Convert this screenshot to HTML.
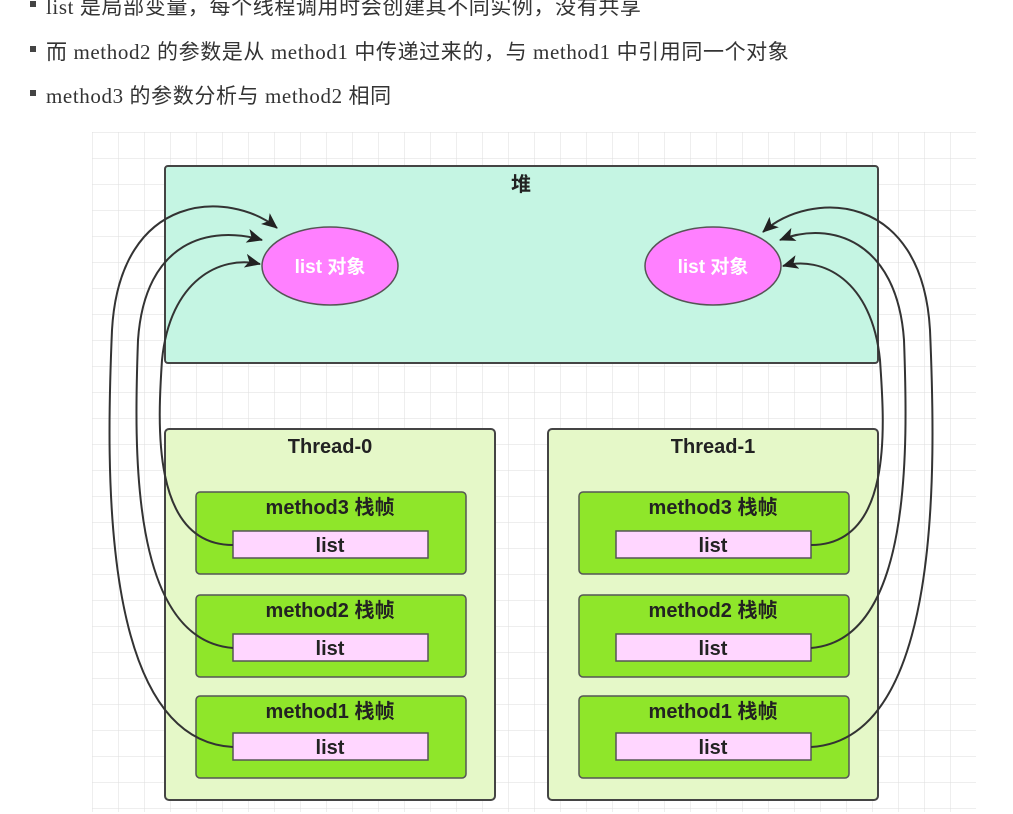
<!DOCTYPE html>
<html><head><meta charset="utf-8"><style>
body{margin:0;background:#fff;width:1013px;height:814px;overflow:hidden;font-family:"Liberation Sans","Noto Sans CJK SC",sans-serif}
.b{position:absolute;font-family:"Liberation Serif","Noto Sans CJK SC",serif;font-size:21px;letter-spacing:0.6px;color:#333;white-space:nowrap}
.b:before{content:"";position:absolute;left:-16px;top:10px;width:6px;height:6px;background:#444}
</style></head><body>
<div class="b" style="left:46px;top:-9px">list 是局部变量，每个线程调用时会创建其不同实例，没有共享</div>
<div class="b" style="left:46px;top:36px">而 method2 的参数是从 method1 中传递过来的，与 method1 中引用同一个对象</div>
<div class="b" style="left:46px;top:80px">method3 的参数分析与 method2 相同</div>
<svg width="1013" height="814" style="position:absolute;left:0;top:0">
<defs>
<pattern id="g" width="26" height="26" patternUnits="userSpaceOnUse" x="92" y="132"><path d="M0 0H26M0 0V26" stroke="#dedede" fill="none"/></pattern>
<marker id="a" markerWidth="16" markerHeight="14" refX="15" refY="7" orient="auto" markerUnits="userSpaceOnUse" viewBox="0 0 16 14"><path d="M0 0L16 7L0 14L4 7Z" fill="#222"/></marker>
</defs>
<rect x="92" y="132" width="884" height="680" fill="url(#g)"/>
<rect x="165" y="166" width="713" height="197" rx="3" fill="#c5f5e3" stroke="#444" stroke-width="2"/>
<text x="521" y="191" font-size="20" font-weight="bold" text-anchor="middle" fill="#222">堆</text>
<g font-weight="bold" text-anchor="middle">
<ellipse cx="330" cy="266" rx="68" ry="39" fill="#ff80ff" stroke="#555" stroke-width="1.5"/>
<text x="330" y="273" font-size="19" fill="#fff">list 对象</text>
<ellipse cx="713" cy="266" rx="68" ry="39" fill="#ff80ff" stroke="#555" stroke-width="1.5"/>
<text x="713" y="273" font-size="19" fill="#fff">list 对象</text>
<g>
<rect x="165" y="429" width="330" height="371" rx="4" fill="#e5f8c8" stroke="#444" stroke-width="2"/>
<rect x="196" y="492" width="270" height="82" rx="4" fill="#8fe62a" stroke="#555" stroke-width="1.5"/>
<rect x="233" y="531" width="195" height="27" fill="#ffd6ff" stroke="#555" stroke-width="1.5"/>
<rect x="196" y="595" width="270" height="82" rx="4" fill="#8fe62a" stroke="#555" stroke-width="1.5"/>
<rect x="233" y="634" width="195" height="27" fill="#ffd6ff" stroke="#555" stroke-width="1.5"/>
<rect x="196" y="696" width="270" height="82" rx="4" fill="#8fe62a" stroke="#555" stroke-width="1.5"/>
<rect x="233" y="733" width="195" height="27" fill="#ffd6ff" stroke="#555" stroke-width="1.5"/>
<g font-size="20" fill="#222">
<text x="330" y="453">Thread-0</text>
<text x="330" y="514">method3 栈帧</text><text x="330" y="552">list</text>
<text x="330" y="617">method2 栈帧</text><text x="330" y="655">list</text>
<text x="330" y="718">method1 栈帧</text><text x="330" y="754">list</text>
</g></g>
<g transform="translate(383,0)">
<rect x="165" y="429" width="330" height="371" rx="4" fill="#e5f8c8" stroke="#444" stroke-width="2"/>
<rect x="196" y="492" width="270" height="82" rx="4" fill="#8fe62a" stroke="#555" stroke-width="1.5"/>
<rect x="233" y="531" width="195" height="27" fill="#ffd6ff" stroke="#555" stroke-width="1.5"/>
<rect x="196" y="595" width="270" height="82" rx="4" fill="#8fe62a" stroke="#555" stroke-width="1.5"/>
<rect x="233" y="634" width="195" height="27" fill="#ffd6ff" stroke="#555" stroke-width="1.5"/>
<rect x="196" y="696" width="270" height="82" rx="4" fill="#8fe62a" stroke="#555" stroke-width="1.5"/>
<rect x="233" y="733" width="195" height="27" fill="#ffd6ff" stroke="#555" stroke-width="1.5"/>
<g font-size="20" fill="#222">
<text x="330" y="453">Thread-1</text>
<text x="330" y="514">method3 栈帧</text><text x="330" y="552">list</text>
<text x="330" y="617">method2 栈帧</text><text x="330" y="655">list</text>
<text x="330" y="718">method1 栈帧</text><text x="330" y="754">list</text>
</g></g>
</g>
<g fill="none" stroke="#333" stroke-width="2" marker-end="url(#a)">
<path d="M233 545C150 545 158 420 162 360C170 280 220 255 260 264"/>
<path d="M233 648C130 640 134 450 138 340C145 240 210 225 262 240"/>
<path d="M233 747C100 740 106 470 112 330C120 190 230 190 277 228"/>
<path d="M811 545C895 545 884 420 880 360C872 280 822 255 783 266"/>
<path d="M811 648C912 640 908 450 904 340C897 240 830 220 780 240"/>
<path d="M811 747C942 740 936 470 930 330C922 190 810 190 763 232"/>
</g>
</svg>
</body></html>
